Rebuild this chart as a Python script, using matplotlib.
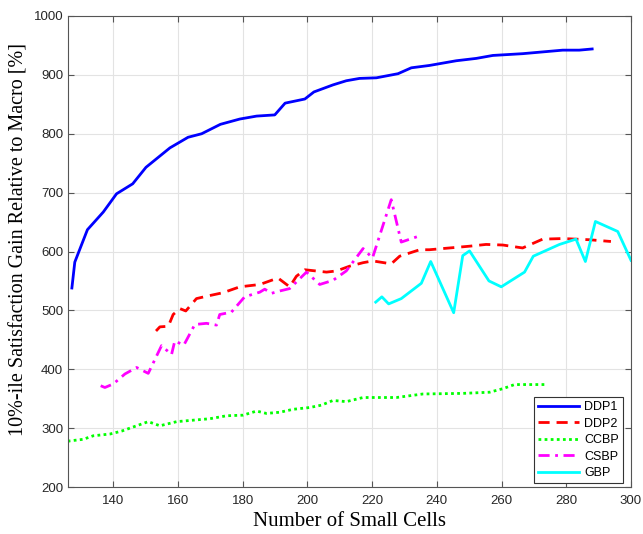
import matplotlib
matplotlib.use("Agg")
import matplotlib.pyplot as plt

# DDP1
ddp1_x = [127.2, 128.1, 132, 136.9, 141, 146, 150.1, 157.5, 163.1, 167.3, 173.1, 179.1, 184.3,
          189.9, 193.1, 199.2, 202, 207.9, 212, 216.1, 221.3, 228, 232.1, 237.7, 246, 252.2,
          257.3, 266.5, 278.9, 284, 288]
ddp1_y = [538, 582, 637, 667, 698, 715, 743, 776, 794, 800, 816, 825, 830,
          832, 852, 859, 871, 883, 890, 894, 895, 902, 912, 916, 924, 928,
          933, 936, 942, 942, 944]

# DDP2
ddp2_x = [153.2, 154.4, 157, 158.5, 160.6, 162.4, 165.7, 168.8, 173.9, 179.1, 185.3, 190.9,
          194.5, 196.6, 199.2, 205.9, 209, 213, 217.2, 220.2, 225.9, 228.5, 234.7, 237.7,
          250.1, 255.2, 260.4, 266.5, 272.7, 278.9, 287.1, 293.8]
ddp2_y = [465, 472, 473, 493, 503, 499, 520, 524, 530, 540, 544, 555,
          540, 558, 569, 565, 567, 575, 581, 584, 579, 592, 603, 603,
          609, 612, 611, 606, 621, 622, 620, 617]

# CCBP
ccbp_x = [126, 126.1, 130.7, 133.8, 139, 142.6, 147.2, 150.8, 154.4, 159.6, 165.7, 169.9, 175,
          180.1, 184.3, 187.3, 191.5, 195.6, 200.7, 204.3, 207.9, 212, 217.2, 227.5, 235.7,
          248, 256.3, 260.4, 264, 273.8]
ccbp_y = [277, 278, 281, 287, 290, 295, 304, 311, 304, 311, 314, 316, 321,
          322, 329, 325, 327, 332, 335, 339, 347, 345, 352, 352, 358,
          359, 361, 367, 374, 374]

# CSBP
csbp_x = [136.1, 137.4, 140, 143.6, 147.2, 150.8, 154.9, 158, 159, 161.8, 165.2, 168.8, 171.9,
          172.9, 176.5, 180.6, 185.3, 186.8, 188.9, 191.5, 194.5, 199.7, 203.8, 207.9, 212,
          217.2, 220.1, 225.9, 229, 234.9]
csbp_y = [372, 369, 375, 392, 403, 393, 440, 425, 448, 441, 476, 478, 475,
          493, 497, 523, 531, 536, 529, 533, 537, 565, 544, 551, 567,
          605, 589, 688, 616, 627]

# GBP
gbp_x = [221.1, 223, 225.1, 229, 235.2, 238.1, 245.2, 248, 250.1, 256.1, 259.9, 267.1, 269.8,
         277.9, 283, 285.9, 289, 295.9, 300]
gbp_y = [514, 523, 511, 520, 546, 583, 496, 593, 601, 550, 540, 565, 592,
         612, 621, 583, 651, 634, 585]

fig = plt.figure(figsize=(6.43, 5.34), dpi=100)
ax = fig.add_axes([68 / 643, 47 / 534, 563 / 643, 471 / 534])

lw = 2.0
ax.plot(ddp1_x, ddp1_y, color="#0000ff", lw=lw, label="DDP1")
ax.plot(ddp2_x, ddp2_y, color="#ff0000", lw=lw, ls=(0, (4, 2.5)), label="DDP2")
ax.plot(ccbp_x, ccbp_y, color="#00ff00", lw=lw, ls=(0, (1, 1.2)), label="CCBP")
ax.plot(csbp_x, csbp_y, color="#ff00ff", lw=lw, ls=(0, (4, 2, 1, 2)), label="CSBP")
ax.plot(gbp_x, gbp_y, color="#00ffff", lw=lw, label="GBP")

ax.set_xlim(126, 300)
ax.set_ylim(200, 1000)
ax.set_xticks(range(140, 301, 20))
ax.set_yticks(range(200, 1001, 100))
ax.grid(True, color="#e3e3e3", lw=0.8)
ax.set_axisbelow(True)
ax.tick_params(direction="in", top=True, right=True, length=4, color="#555555",
               labelsize=9.5, labelcolor="#262626")
ax.tick_params(axis="x", pad=6)
for lab in ax.get_xticklabels() + ax.get_yticklabels():
    lab.set_family("Liberation Sans")
for s in ax.spines.values():
    s.set_color("#555555")
    s.set_linewidth(0.8)

ax.set_xlabel("Number of Small Cells", family="Liberation Serif", fontsize=15, labelpad=3)
ax.set_ylabel("10%-ile Satisfaction Gain Relative to Macro [%]", family="Liberation Serif",
              fontsize=14.5)
ax.yaxis.set_label_coords(-0.071, 0.525)

leg = ax.legend(loc="lower right", bbox_to_anchor=(0.9863, 0.0079),
                prop={"family": "Liberation Sans", "size": 9},
                fancybox=False, edgecolor="#333333", framealpha=1,
                handlelength=3.3, borderaxespad=0, labelspacing=0.35, handletextpad=0.4,
                borderpad=0.35)
leg.get_frame().set_linewidth(0.8)

fig.savefig("out.png", dpi=100)
